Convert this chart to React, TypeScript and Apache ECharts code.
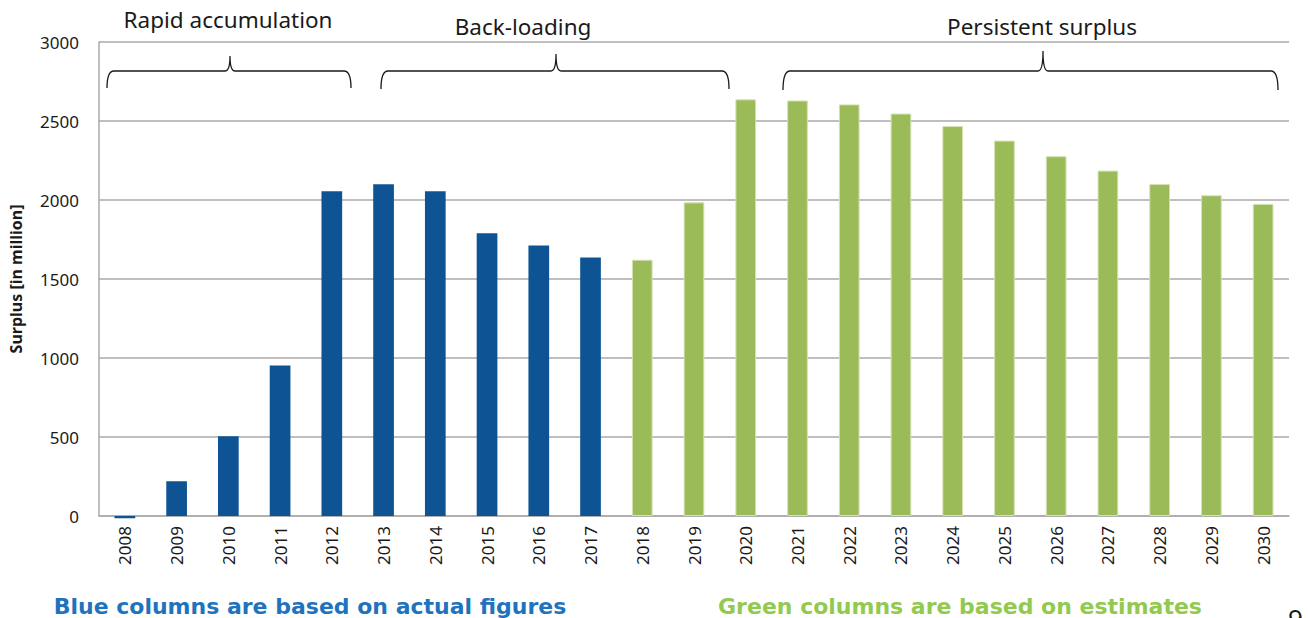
import React, { useEffect, useRef } from "react";
import * as echarts from "echarts";

const years = ["2008","2009","2010","2011","2012","2013","2014","2015","2016","2017","2018","2019","2020","2021","2022","2023","2024","2025","2026","2027","2028","2029","2030"];
const actual = [-15, 220, 505, 953, 2055, 2100, 2055, 1790, 1712, 1636, null, null, null, null, null, null, null, null, null, null, null, null, null];
const estimates = [null, null, null, null, null, null, null, null, null, null, 1622, 1985, 2637, 2630, 2605, 2547, 2468, 2376, 2277, 2186, 2101, 2030, 1975];
const yTicks = [0, 500, 1000, 1500, 2000, 2500, 3000];
const phases = ["Rapid accumulation", "Back-loading", "Persistent surplus"];
const notes = ["Blue columns are based on actual figures", "Green columns are based on estimates"];

function bracePath(x0: number, x1: number, cx: number, yTip: number, yMid: number, yEnd: number) {
  return `M ${x0} ${yEnd} Q ${x0} ${yMid} ${x0 + 7} ${yMid} L ${cx - 5} ${yMid} Q ${cx} ${yMid} ${cx} ${yTip} Q ${cx} ${yMid} ${cx + 5} ${yMid} L ${x1 - 7} ${yMid} Q ${x1} ${yMid} ${x1} ${yEnd}`;
}

let registered = false;
function registerBraces() {
  if (registered) return;
  registered = true;
  echarts.graphic.registerShape("brace1", echarts.graphic.extendPath(bracePath(107, 351, 230, 56, 71, 88), {}));
  echarts.graphic.registerShape("brace2", echarts.graphic.extendPath(bracePath(381, 729, 556, 54, 71, 89), {}));
  echarts.graphic.registerShape("brace3", echarts.graphic.extendPath(bracePath(783, 1278, 1043, 51, 71, 90), {}));
}

export default function App() {
  const ref = useRef<HTMLDivElement>(null);
  useEffect(() => {
    if (!ref.current) return;
    registerBraces();
    const chart = echarts.init(ref.current, undefined, { renderer: "svg" });
    const braceStyle = { fill: "none", stroke: "#1a1a1a", lineWidth: 1.3 };
    const titleFont = { fontFamily: "Noto Sans", fontSize: 22.5, fill: "#1a1a1a" };
    chart.setOption({
      animation: false,
      backgroundColor: "#ffffff",
      grid: { left: 96, right: 19, top: 42, bottom: 102, containLabel: false },
      xAxis: {
        type: "category",
        data: years,
        axisLine: { show: true, lineStyle: { color: "#aaaaaa", width: 1.5 } },
        axisTick: { show: false },
        axisLabel: { rotate: 90, color: "#1a1a1a", fontFamily: "Noto Sans", fontSize: 17, margin: 10 },
      },
      yAxis: {
        type: "value",
        min: 0,
        max: 3000,
        interval: 500,
        name: "Surplus [in million]",
        nameLocation: "middle",
        nameGap: 75,
        nameTextStyle: { fontFamily: "Noto Sans", fontWeight: "bold", fontSize: 16, color: "#1a1a1a" },
        axisLine: { show: true, lineStyle: { color: "#aaaaaa", width: 1.5 } },
        axisTick: { show: false },
        splitLine: { show: true, lineStyle: { color: "#aaaaaa", width: 1.5 } },
        axisLabel: {
          color: "#1a1a1a", fontFamily: "Noto Sans", fontSize: 17, margin: 20,
          customValues: yTicks,
          formatter: (v: number) => String(v),
        },
      },
      series: [
        {
          type: "bar",
          data: actual,
          barWidth: "40%",
          barGap: "-100%",
          clip: false,
          itemStyle: { color: "#0e5494" },
        },
        {
          type: "bar",
          data: estimates,
          barWidth: "40%",
          itemStyle: { color: "#9bbb59", borderColor: "#d3e2b4", borderWidth: 1 },
        },
      ],
      graphic: [
        { type: "brace1", x: 0, y: 0, shape: {}, style: braceStyle, silent: true },
        { type: "brace2", x: 0, y: 0, shape: {}, style: braceStyle, silent: true },
        { type: "brace3", x: 0, y: 0, shape: {}, style: braceStyle, silent: true },
        { type: "text", x: 228, y: 19, style: { ...titleFont, text: phases[0], textAlign: "center", textVerticalAlign: "middle" } },
        { type: "text", x: 523, y: 26, style: { ...titleFont, text: phases[1], textAlign: "center", textVerticalAlign: "middle" } },
        { type: "text", x: 1042, y: 26, style: { ...titleFont, text: phases[2], textAlign: "center", textVerticalAlign: "middle" } },
        { type: "text", x: 310, y: 606, style: { text: notes[0], fontFamily: "DejaVu Sans", fontWeight: "bold", fontSize: 22, fill: "#1f73bd", textAlign: "center", textVerticalAlign: "middle" } },
        { type: "text", x: 960, y: 606, style: { text: notes[1], fontFamily: "DejaVu Sans", fontWeight: "bold", fontSize: 22, fill: "#92c94f", textAlign: "center", textVerticalAlign: "middle" } },
        { type: "text", x: 1288, y: 605, style: { text: "9", fontFamily: "Noto Sans", fontSize: 26, fill: "#1a1a1a", textAlign: "left", textVerticalAlign: "top" } },
      ],
    });
    return () => chart.dispose();
  }, []);
  return <div ref={ref} style={{ position: "fixed", left: 0, top: 0, width: 1308, height: 618 }} />;
}
